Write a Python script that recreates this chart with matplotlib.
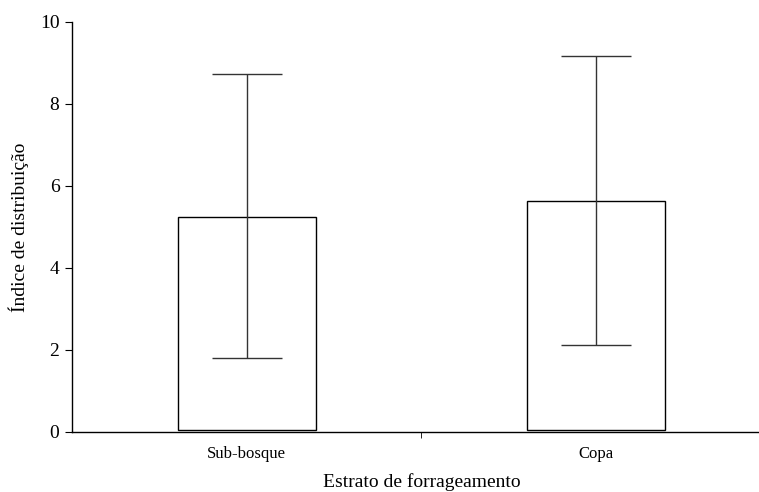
import matplotlib
matplotlib.use('Agg')
import matplotlib.pyplot as plt

categories = ['Sub-bosque', 'Copa']
means = [5.24, 5.63]
lower = [1.80, 2.12]
upper = [8.73, 9.17]
base = 0.04

plt.rcParams['font.family'] = ['Liberation Serif', 'DejaVu Serif']

fig = plt.figure(figsize=(7.59, 4.92), dpi=100)
ax = fig.add_axes([72/759, 60/492, 699/759, 410/492])

x = list(range(len(categories)))
heights = [m - base for m in means]
ax.bar(x, heights, bottom=base, width=0.394, color='white', edgecolor='black', linewidth=1.0, zorder=2)

yerr = [[m - l for m, l in zip(means, lower)], [u - m for m, u in zip(means, upper)]]
ax.errorbar(x, means, yerr=yerr, fmt='none', ecolor='#333333', elinewidth=1.0,
            capsize=25, capthick=1.0, zorder=3)

ax.set_xlim(-0.5, 1.5)
ax.set_ylim(0, 10)
ax.set_yticks([0, 2, 4, 6, 8, 10])
ax.set_xticks(x)
ax.set_xticklabels(categories, fontsize=12)
ax.set_xticks([0.5], minor=True)
ax.tick_params(axis='x', which='major', length=0, pad=10)
ax.tick_params(axis='x', which='minor', length=4, direction='out')
ax.tick_params(axis='y', labelsize=14, length=5, direction='out', pad=4)

for s in ['top', 'right']:
    ax.spines[s].set_visible(False)
ax.spines['left'].set_linewidth(1.0)
ax.spines['bottom'].set_linewidth(1.0)

ax.set_xlabel('Estrato de forrageamento', fontsize=14, labelpad=8)
ax.set_ylabel('Índice de distribuição', fontsize=14, labelpad=8)

fig.savefig('out.png', dpi=100)
